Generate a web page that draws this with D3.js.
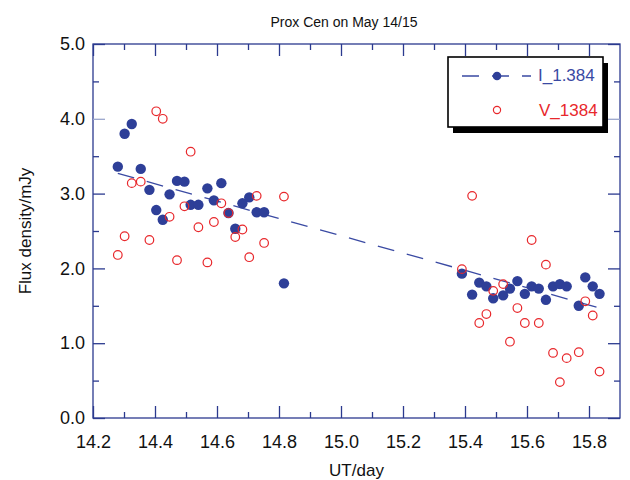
<!DOCTYPE html>
<html>
<head>
<meta charset="utf-8">
<script src="https://cdn.jsdelivr.net/npm/d3@7"></script>
<style>
  body { margin: 0; background: #fff; }
  text { font-family: "Liberation Sans", Arial, Helvetica, sans-serif; }
</style>
</head>
<body>
<script>
// observation times (UT/day), shared by both bands
var days = [14.280, 14.302, 14.325, 14.354, 14.382, 14.404, 14.425, 14.447, 14.471, 14.495, 14.515,
            14.540, 14.569, 14.590, 14.614, 14.637, 14.659, 14.682, 14.704, 14.728, 14.752, 14.816,
            15.390, 15.423, 15.446, 15.469, 15.491, 15.523, 15.545, 15.569, 15.593, 15.615, 15.638,
            15.661, 15.684, 15.706, 15.728, 15.767, 15.788, 15.812, 15.834];
var fluxI = [3.36, 3.80, 3.93, 3.33, 3.05, 2.78, 2.65, 2.99, 3.17, 3.16, 2.85,
             2.85, 3.07, 2.91, 3.14, 2.74, 2.53, 2.87, 2.95, 2.75, 2.75, 1.80,
             1.93, 1.65, 1.81, 1.76, 1.60, 1.64, 1.73, 1.83, 1.66, 1.76, 1.73,
             1.58, 1.76, 1.79, 1.76, 1.50, 1.88, 1.76, 1.66];
var fluxV = [2.18, 2.43, 3.14, 3.16, 2.38, 4.10, 4.00, 2.69, 2.11, 2.83, 3.56,
             2.55, 2.08, 2.62, 2.87, 2.74, 2.42, 2.52, 2.15, 2.97, 2.34, 2.96,
             1.99, 2.97, 1.27, 1.39, 1.70, 1.79, 1.02, 1.47, 1.27, 2.38, 1.27,
             2.05, 0.87, 0.48, 0.80, 0.88, 1.56, 1.37, 0.62];
// dashed fit through the I band
var fitDays = [14.28, 15.835];
var fitFlux = [3.27, 1.47];

var xTicks = [14.2, 14.4, 14.6, 14.8, 15.0, 15.2, 15.4, 15.6, 15.8];
var xMinor = [14.3, 14.5, 14.7, 14.9, 15.1, 15.3, 15.5, 15.7];
var yTicks = [0, 1, 2, 3, 4, 5];
var yMinor = [0.5, 1.5, 2.5, 3.5, 4.5];
var seriesNames = ["I_1.384", "V_1384"];

var width = 630, height = 480,
    margin = {left: 93, right: 10, top: 44, bottom: 62};

var axisColor = "#2b3a8f",
    blue = "#2e3f98",
    red = "#e8282c";

var x = d3.scaleLinear().domain([14.2, 15.9]).range([margin.left, width - margin.right]);
var y = d3.scaleLinear().domain([0, 5]).range([height - margin.bottom, margin.top]);

var svg = d3.select("body").append("svg").attr("width", width).attr("height", height);

// frame
svg.append("rect")
  .attr("x", x(14.2)).attr("y", y(5))
  .attr("width", x(15.9) - x(14.2)).attr("height", y(0) - y(5))
  .attr("fill", "none").attr("stroke", axisColor).attr("stroke-width", 1.3);

function styleAxis(g) {
  g.select(".domain").remove();
  g.selectAll(".tick line").attr("stroke", axisColor).attr("stroke-width", 1.3);
  g.selectAll("text").attr("fill", "#111").attr("font-size", 18);
}

// bottom
svg.append("g").attr("transform", "translate(0," + y(0) + ")")
  .call(d3.axisBottom(x).tickValues(xTicks).tickSize(-12).tickSizeOuter(0).tickPadding(17)
        .tickFormat(d3.format(".1f")))
  .call(styleAxis);
svg.append("g").attr("transform", "translate(0," + y(0) + ")")
  .call(d3.axisBottom(x).tickValues(xMinor).tickSize(-6).tickSizeOuter(0).tickFormat(""))
  .call(styleAxis);
// top
svg.append("g").attr("transform", "translate(0," + y(5) + ")")
  .call(d3.axisTop(x).tickValues(xTicks).tickSize(-12).tickSizeOuter(0).tickFormat(""))
  .call(styleAxis);
svg.append("g").attr("transform", "translate(0," + y(5) + ")")
  .call(d3.axisTop(x).tickValues(xMinor).tickSize(-6).tickSizeOuter(0).tickFormat(""))
  .call(styleAxis);
// left
var yLeft = svg.append("g").attr("transform", "translate(" + x(14.2) + ",0)")
  .call(d3.axisLeft(y).tickValues(yTicks).tickSize(-12).tickSizeOuter(0).tickPadding(8)
        .tickFormat(d3.format(".1f")))
  .call(styleAxis);
svg.append("g").attr("transform", "translate(" + x(14.2) + ",0)")
  .call(d3.axisLeft(y).tickValues(yMinor).tickSize(-6).tickSizeOuter(0).tickFormat(""))
  .call(styleAxis);
// right
var yRight = svg.append("g").attr("transform", "translate(" + x(15.9) + ",0)")
  .call(d3.axisRight(y).tickValues(yTicks).tickSize(-12).tickSizeOuter(0).tickFormat(""))
  .call(styleAxis);
svg.append("g").attr("transform", "translate(" + x(15.9) + ",0)")
  .call(d3.axisRight(y).tickValues(yMinor).tickSize(-6).tickSizeOuter(0).tickFormat(""))
  .call(styleAxis);

// the 4.0 ticks come out faded in the original
[yLeft, yRight].forEach(function(g) {
  g.selectAll(".tick").filter(function(d) { return d === 4; })
    .select("line").attr("stroke", "#9aa6cc");
});

// fit line
var line = d3.line().x(function(d) { return x(d[0]); }).y(function(d) { return y(d[1]); });
svg.append("path")
  .datum(d3.zip(fitDays, fitFlux))
  .attr("d", line)
  .attr("fill", "none")
  .attr("stroke", "#3a4aa3")
  .attr("stroke-width", 1.3)
  .attr("stroke-dasharray", "17,13");

// I band: filled dots
svg.append("g").selectAll("circle")
  .data(d3.zip(days, fluxI))
  .enter().append("circle")
  .attr("cx", function(d) { return x(d[0]); })
  .attr("cy", function(d) { return y(d[1]); })
  .attr("r", 5.2)
  .attr("fill", blue);

// V band: open circles
svg.append("g").selectAll("circle")
  .data(d3.zip(days, fluxV))
  .enter().append("circle")
  .attr("cx", function(d) { return x(d[0]); })
  .attr("cy", function(d) { return y(d[1]); })
  .attr("r", 4.3)
  .attr("fill", "none")
  .attr("stroke", red)
  .attr("stroke-width", 1.2);

// titles
svg.append("text")
  .attr("x", 344).attr("y", 27)
  .attr("text-anchor", "middle")
  .attr("font-size", 14)
  .attr("fill", "#111")
  .text("Prox Cen on May 14/15");

svg.append("text")
  .attr("x", (x(14.2) + x(15.9)) / 2).attr("y", 476)
  .attr("text-anchor", "middle")
  .attr("font-size", 17)
  .attr("fill", "#111")
  .text("UT/day");

svg.append("text")
  .attr("transform", "translate(31," + (y(0) + y(5)) / 2 + ") rotate(-90)")
  .attr("text-anchor", "middle")
  .attr("font-size", 17)
  .attr("fill", "#111")
  .text("Flux density/mJy");

// legend
var legend = svg.append("g");
legend.append("rect")
  .attr("x", 453).attr("y", 63).attr("width", 155).attr("height", 70)
  .attr("fill", "#000");
legend.append("rect")
  .attr("x", 448).attr("y", 57).attr("width", 155).attr("height", 70)
  .attr("fill", "#fff").attr("stroke", "#000").attr("stroke-width", 1.6);

legend.append("line")
  .attr("x1", 462).attr("x2", 531).attr("y1", 76).attr("y2", 76)
  .attr("stroke", "#3a4aa3").attr("stroke-width", 1.3)
  .attr("stroke-dasharray", "17,13");
legend.append("circle")
  .attr("cx", 497).attr("cy", 76).attr("r", 4.3).attr("fill", blue);
legend.append("circle")
  .attr("cx", 497).attr("cy", 110).attr("r", 3.6)
  .attr("fill", "none").attr("stroke", red).attr("stroke-width", 1.2);

legend.append("text")
  .attr("x", 538).attr("y", 81)
  .attr("font-size", 17).attr("fill", "#3a4aa3")
  .text(seriesNames[0]);
legend.append("text")
  .attr("x", 539).attr("y", 116)
  .attr("font-size", 17).attr("fill", red)
  .text(seriesNames[1]);
</script>
</body>
</html>
